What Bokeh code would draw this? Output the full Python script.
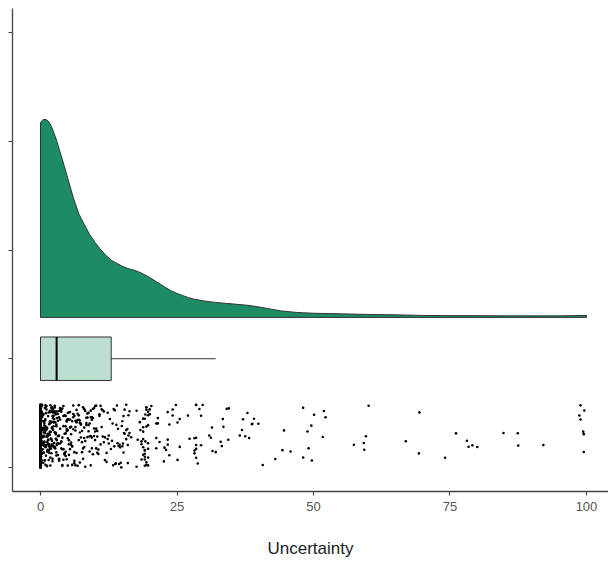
import numpy as np
from bokeh.plotting import figure
from bokeh.models import Range1d, FixedTicker, ColumnDataSource, CustomLabelingPolicy
from bokeh.embed import file_html
from bokeh.resources import INLINE

# ---------------- data ----------------
zero_count = 200

low_values = [0.1, 0.2, 0.3, 0.4, 0.5, 0.6, 0.7, 0.8, 0.9, 1.0,
              1.1, 1.2, 1.3, 1.4, 1.5, 1.6, 1.7, 1.8, 1.9, 2.0,
              2.1, 2.2, 2.3, 2.4, 2.5, 2.6, 2.7, 2.8, 2.9]
low_counts = [6, 6, 6, 6, 6, 6, 6, 6, 6, 6,
              5, 5, 5, 5, 5, 5, 5, 5, 5, 5,
              5, 5, 4, 5, 4, 5, 4, 4, 4]

mid_values = [3.0, 3.2, 3.4, 3.6, 3.8, 4.0, 4.2, 4.4, 4.6, 4.8,
              5.0, 5.2, 5.4, 5.6, 5.8, 6.0, 6.2, 6.4, 6.6, 6.8,
              7.0, 7.2, 7.4, 7.6, 7.8, 8.0, 8.2, 8.4, 8.6, 8.8,
              9.0, 9.2, 9.4, 9.6, 9.8, 10.0, 10.2, 10.4, 10.6, 10.8,
              11.0, 11.2, 11.4, 11.6, 11.8, 12.1, 12.3, 12.5, 12.7, 12.9]
mid_counts = [6, 6, 6, 5, 5, 5, 5, 5, 5, 5,
              5, 5, 4, 4, 4, 4, 4, 4, 4, 3,
              4, 4, 3, 3, 3, 4, 3, 3, 3, 3,
              3, 4, 4, 3, 3, 3, 3, 3, 2, 2,
              2, 2, 2, 2, 2, 2, 2, 2, 1, 1]

high_values = [13.1, 13.2, 13.3, 13.4, 13.5, 13.6, 13.7, 13.8, 13.9, 14.0,
               14.1, 14.2, 14.3, 14.4, 14.5, 14.6, 14.7, 14.8, 14.9, 15.0,
               15.0, 15.1, 15.2, 15.2, 15.3,
               15.7, 16.3, 16.3, 17.6, 18.3, 18.8, 19.2, 19.4, 19.7, 20.3,
               21.2, 21.8, 22.6, 23.3, 23.6, 24.8, 27.3, 28.5, 28.2, 28.8,
               29.1, 29.4, 28.5, 15.9, 16.1, 15.7, 18.2, 19.1, 21.2, 23.3,
               16.0, 17.8, 18.5, 19.1, 19.7, 20.0, 22.7, 23.6, 28.5, 29.4,
               30.9, 32.1, 18.8, 19.2, 15.4, 16.1, 17.6, 18.5, 19.1, 19.7,
               21.2, 23.3, 24.2, 25.5, 28.2, 28.5, 31.5, 31.4, 18.8, 19.1,
               19.4, 19.7, 21.5, 28.2, 28.5, 31.2, 15.4, 18.8, 19.1, 19.4,
               19.7, 16.6, 16.0, 18.8, 19.1, 19.4, 19.7, 20.0, 24.2, 25.1,
               27.0, 28.5, 29.7, 15.7, 18.8, 19.1, 19.4, 19.7, 21.5, 23.0,
               25.1, 25.5, 18.5, 33.0,
               33.5, 33.2, 37.1, 36.5, 36.9, 38.7, 40.7, 33.4, 34.4, 34.5,
               38.8, 38.2, 37.5, 37.9, 34.1, 39.1, 39.9, 44.3, 48.1, 49.6,
               49.1, 48.9, 50.1, 44.6, 43.0, 45.8, 48.1, 49.7,
               51.7, 51.9, 52.2, 57.4, 59.2, 59.3, 59.6, 60.1, 66.9, 69.3,
               69.4, 74.1, 76.1, 78.1, 78.4, 79.1, 80.0, 84.8, 87.4, 87.5,
               92.1, 98.7, 98.9, 98.9, 99.4, 99.5, 99.5, 99.6]

# density curve (relative height, max = 1)
density_x = [0, 0.5, 1, 1.5, 2, 2.5, 3, 3.5, 4, 5, 6, 7, 8, 9, 10, 11, 12, 13,
             14, 15, 16, 17, 18, 19, 20, 21, 22, 23, 24, 25, 26, 27, 28, 30,
             32, 34, 36, 38, 40, 42, 44, 47, 50, 55, 60, 65, 70, 75, 80, 85,
             90, 95, 100]
density_y = [0.985, 1.0, 1.0, 0.99, 0.965, 0.929, 0.889, 0.843, 0.798, 0.702,
             0.606, 0.525, 0.47, 0.419, 0.379, 0.343, 0.313, 0.288, 0.273,
             0.258, 0.247, 0.24, 0.23, 0.217, 0.202, 0.184, 0.167, 0.149,
             0.134, 0.121, 0.111, 0.101, 0.093, 0.083, 0.076, 0.071, 0.066,
             0.061, 0.053, 0.043, 0.033, 0.025, 0.021, 0.018, 0.015, 0.013,
             0.010, 0.009, 0.009, 0.008, 0.008, 0.008, 0.010]

x_ticks = [0, 25, 50, 75, 100]
x_label = "Uncertainty"

# ---------------- build ----------------
vals = np.concatenate([
    np.zeros(zero_count),
    np.repeat(low_values, low_counts),
    np.repeat(mid_values, mid_counts),
    np.array(high_values),
])

# layout positions (category rows)
dens_base = 1.38
dens_height = 1.82
box_center = 1.0
box_half = 0.2
jit_height = 0.58

idx = np.arange(len(vals))
jit = np.mod(np.sin((idx + 1) * 12.9898) * 43758.5453, 1.0)
pts_y = jit * jit_height

q1, med, q3 = np.percentile(vals, [25, 50, 75])
iqr = q3 - q1
upper = vals[vals <= q3 + 1.5 * iqr].max()
lower = vals[vals >= q1 - 1.5 * iqr].min()

p = figure(width=608, height=562, output_backend="svg", toolbar_location=None,
           x_range=Range1d(-5.13, 104.03), y_range=Range1d(-0.221, 4.221),
           min_border_left=12, min_border_right=0, min_border_top=8,
           min_border_bottom=71)
p.outline_line_color = None
p.grid.visible = False
p.background_fill_color = "white"

# density
dx = list(density_x) + [density_x[-1], density_x[0]]
dy = [dens_base + dens_height * d for d in density_y] + [dens_base, dens_base]
p.patch(dx, dy, fill_color="#1E8C62", line_color="#333333", line_width=1)

# boxplot
p.segment(x0=[q3], y0=[box_center], x1=[upper], y1=[box_center],
          line_color="#333333", line_width=1)
if lower < q1:
    p.segment(x0=[lower], y0=[box_center], x1=[q1], y1=[box_center],
              line_color="#333333", line_width=1)
p.quad(left=[q1], right=[q3], bottom=[box_center - box_half],
       top=[box_center + box_half], fill_color="#BCDFD0",
       line_color="#333333", line_width=1)
p.segment(x0=[med], y0=[box_center - box_half], x1=[med],
          y1=[box_center + box_half], line_color="black", line_width=2)

# points
src = ColumnDataSource(dict(x=vals, y=pts_y))
p.scatter("x", "y", source=src, size=2.6, fill_color="black", line_color=None)

# axes
p.xaxis.ticker = FixedTicker(ticks=x_ticks)
p.xaxis.axis_label = x_label
p.xaxis.axis_label_text_font = "Liberation Sans"
p.xaxis.axis_label_text_font_style = "normal"
p.xaxis.axis_label_text_font_size = "17px"
p.xaxis.axis_label_text_color = "#222222"
p.xaxis.axis_label_standoff = 25
p.xaxis.major_label_text_font = "Liberation Sans"
p.xaxis.major_label_text_font_size = "13px"
p.xaxis.major_label_text_color = "#555555"
p.xaxis.major_label_standoff = 6

p.yaxis.ticker = FixedTicker(ticks=[0, 1, 2, 3, 4])
p.yaxis.major_label_policy = CustomLabelingPolicy(
    code="const arr = [...indices]; for (const i of arr) { indices.unset(i) } return indices")
p.yaxis.major_label_text_font_size = "0px"
p.yaxis.major_label_standoff = 0

for ax in (p.xaxis[0], p.yaxis[0]):
    ax.axis_line_color = "#444444"
    ax.axis_line_width = 1.3
    ax.major_tick_line_color = "#444444"
    ax.major_tick_line_width = 1.1
    ax.major_tick_out = 4
    ax.major_tick_in = 0
    ax.minor_tick_line_color = None

open("out.html", "w").write(file_html(p, INLINE))
